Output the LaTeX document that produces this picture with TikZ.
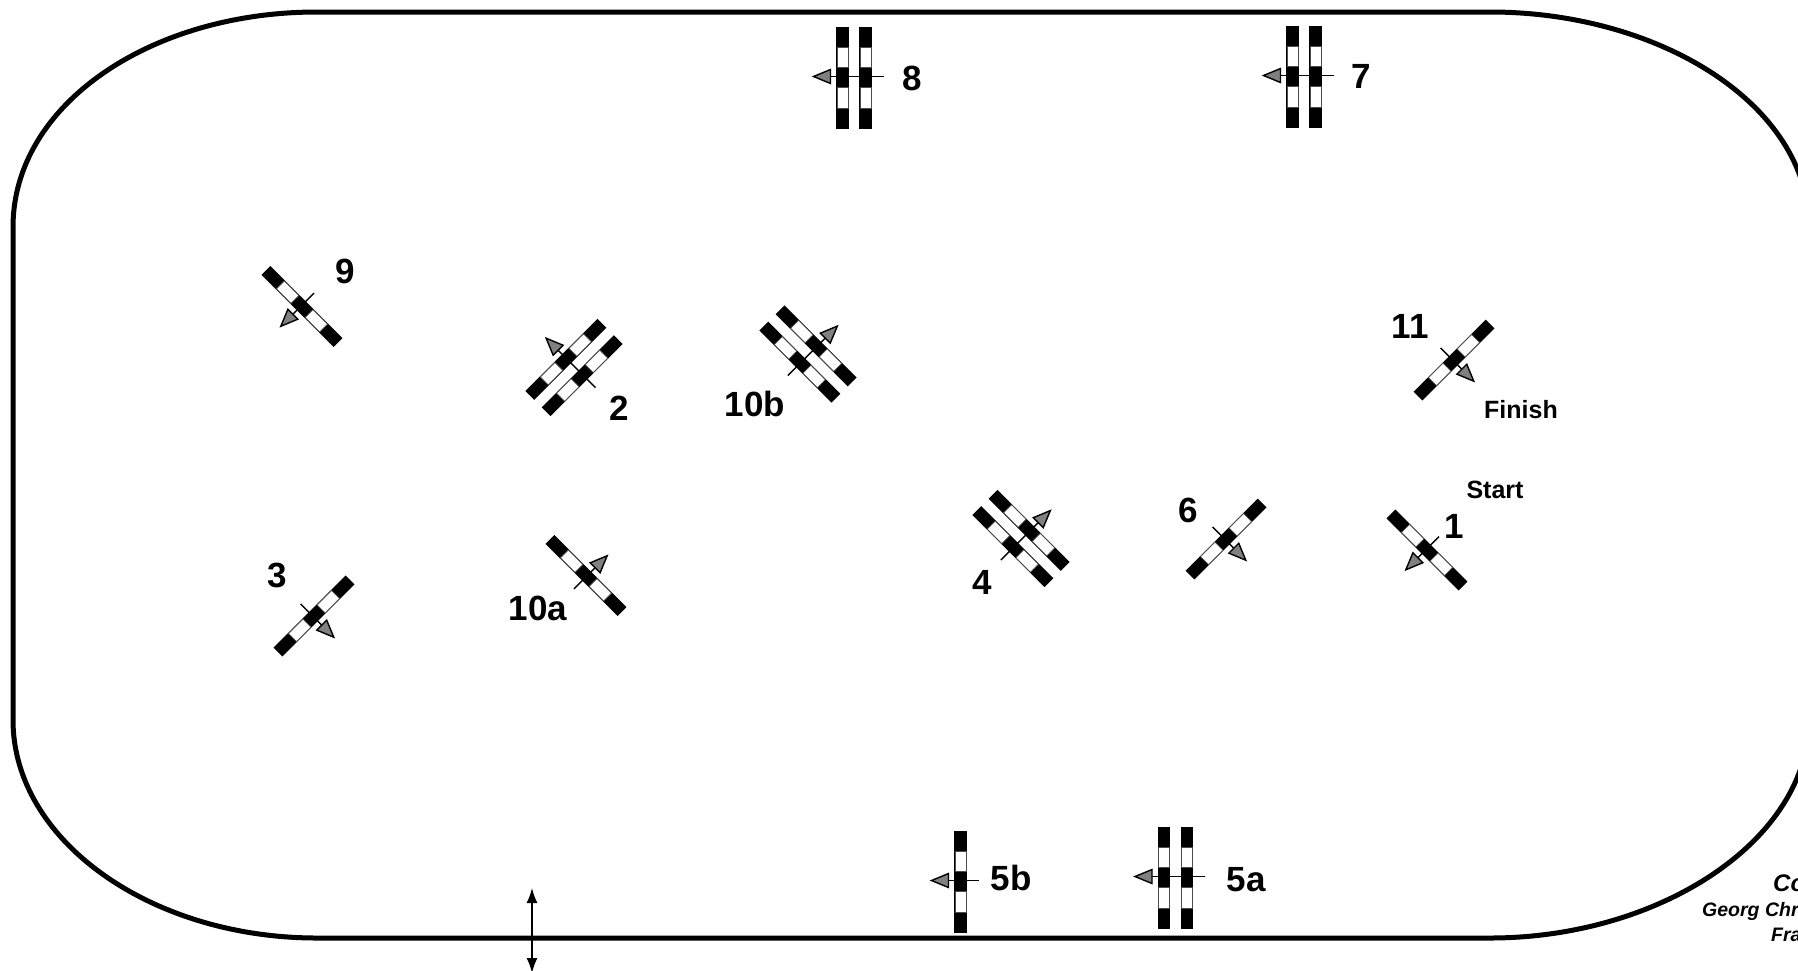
\documentclass[tikz,border=0pt]{standalone}
\usepackage{fontspec}
\usetikzlibrary{arrows.meta}
\setmainfont{Liberation Sans}
\tikzset{
  x=1pt,y=-1pt,
  every pic/.style={transform shape},
  lab/.style={font=\fontsize{35}{35}\selectfont\bfseries,inner sep=0pt},
  small/.style={font=\fontsize{25}{25}\selectfont\bfseries,inner sep=0pt},
  credit/.style={font=\fontsize{19.5}{19.5}\selectfont\bfseries\itshape,inner sep=0pt,anchor=west},
  ring/.style={draw=black,line width=5pt},
  axis/.style={draw=black,line width=1.4pt},
  head/.style={draw=black,line width=1.4pt,fill=black!50,line join=miter},
  access/.style={draw=black,line width=1.5pt,-{Latex[length=15pt,width=11pt]}},
  pics/bar/.style={code={
    \fill[black] (-6.2,-51) rectangle (6.2,51);
    \draw[black!70,line width=0.6pt,fill=white] (-5.6,-30.5) rectangle (5.6,-10);
    \draw[black!70,line width=0.6pt,fill=white] (-5.6,10) rectangle (5.6,30.5);
  }},
  pics/arrowline/.style={code={
    \draw[axis] (#1+18,-1) -- (-#1-17,-1);
    \draw[head] (-#1-29,-1) -- (-#1-12,-8) -- (-#1-12,6) -- cycle;
  }},
  pics/gateone/.style={code={
    \begin{scope}[rotate=#1]
    \pic {bar};
    \pic {arrowline=0};
    \end{scope}
  }},
  pics/gatetwo/.style={code={
    \begin{scope}[rotate=#1]
    \pic at (-11.5,0) {bar};
    \pic at (11.5,0) {bar};
    \pic {arrowline=11.5};
    \end{scope}
  }}
}
\begin{document}
\begin{tikzpicture}
\useasboundingbox (0,0) rectangle (1798,970);
\fill[white] (0,0) rectangle (1798,970);
% arena
\coordinate (tl) at (317,12);
\coordinate (tr) at (1490,12);
\coordinate (rt) at (1809,227);
\coordinate (rb) at (1809,720);
\coordinate (br) at (1490,938);
\coordinate (bl) at (317,938);
\coordinate (lb) at (13,720);
\coordinate (lt) at (13,227);
\draw[ring] (tl) -- (tr) .. controls (1660,12) and (1809,105) .. (rt) -- (rb)
  .. controls (1809,840) and (1660,938) .. (br) -- (bl)
  .. controls (150,938) and (13,840) .. (lb) -- (lt)
  .. controls (13,105) and (150,12) .. (tl) -- cycle;
% gates
\pic at (854,77.5) {gatetwo=0};
\pic at (1304,76.5) {gatetwo=0};
\pic at (302,306.5) {gateone=45};
\pic at (574,367.5) {gatetwo=-45};
\pic at (808,354) {gatetwo=-135};
\pic at (1021,538.5) {gatetwo=-135};
\pic at (1226,539) {gateone=135};
\pic at (1454,360) {gateone=135};
\pic at (1427,550) {gateone=45};
\pic at (314,616) {gateone=135};
\pic at (586,575.5) {gateone=-135};
\pic at (960.5,881.5) {gateone=0};
\pic at (1175.5,877.5) {gatetwo=0};
% labels
\node[lab] (n8) at (912,78) {8};
\node[lab] (n7) at (1361,76) {7};
\node[lab] (n9) at (345,271) {9};
\node[lab] (n2) at (619.5,408) {2};
\node[lab] (n10b) at (755,404) {10b};
\node[lab] (n11) at (1410,326) {11};
\node[lab] (n6) at (1188,510) {6};
\node[lab] (n1) at (1454,526) {1};
\node[lab] (n4) at (982,582) {4};
\node[lab] (n3) at (277,575) {3};
\node[lab] (n10a) at (538,608) {10a};
\node[lab] (n5b) at (1011,878) {5b};
\node[lab] (n5a) at (1246,880) {5a};
\node[small] (fin) at (1521,410) {Finish};
\node[small] (sta) at (1495,490) {Start};
% access arrow
\coordinate (mid) at (532,938);
\coordinate (ua) at (532,888);
\coordinate (da) at (532,973);
\draw[access] (mid) -- (ua);
\draw[access] (mid) -- (da);
% credit (runs off the page)
\node[credit,font=\fontsize{24}{24}\selectfont\bfseries\itshape] (c1) at (1773,883) {Co};
\node[credit] (c2) at (1702,911) {Georg Chr};
\node[credit] (c3) at (1771,935) {Fra};
\end{tikzpicture}
\end{document}
